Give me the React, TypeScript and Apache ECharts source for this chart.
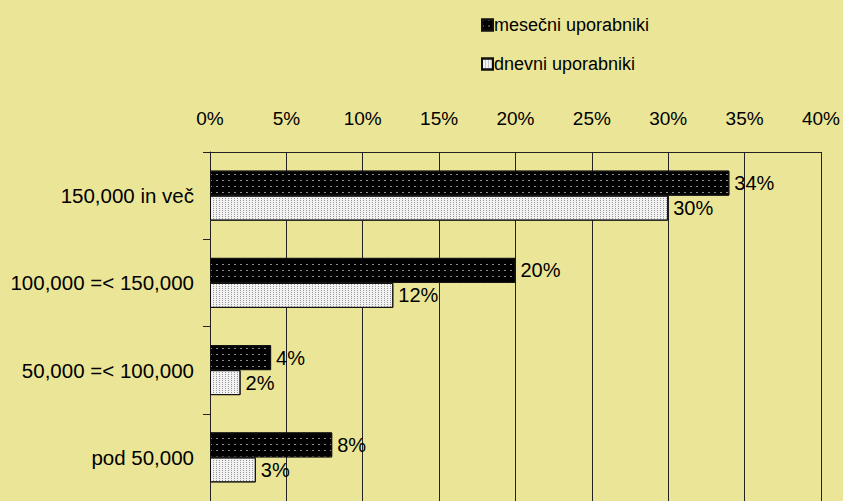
import React, { useEffect, useRef } from "react";
import * as echarts from "echarts";

const categories = ["150,000 in več", "100,000 =< 150,000", "50,000 =< 100,000", "pod 50,000"];
const monthlyName = "mesečni uporabniki";
const dailyName = "dnevni uporabniki";
const monthly = [34, 20, 4, 8];
const daily = [30, 12, 2, 3];

export default function App() {
  const ref = useRef<HTMLDivElement>(null);
  useEffect(() => {
    if (!ref.current) return;
    const chart = echarts.init(ref.current, null, { renderer: "svg" });
    const font = "Liberation Sans, Arial, sans-serif";
    chart.setOption({
      animation: false,
      backgroundColor: "#EBE697",
      textStyle: { fontFamily: font },
      legend: {
        orient: "vertical",
        left: 476,
        top: 11,
        itemGap: 21,
        itemWidth: 11,
        itemHeight: 11,
        icon: "rect",
        textStyle: { fontSize: 18, color: "#000", fontFamily: font, padding: [0, 0, 0, -4] },
        data: [monthlyName, dailyName],
      },
      grid: { left: 210, right: 21, top: 152, height: 352, containLabel: false },
      xAxis: {
        type: "value",
        position: "top",
        min: 0,
        max: 40,
        interval: 5,
        axisLine: { show: true, lineStyle: { color: "#222", width: 1 } },
        axisTick: { show: false },
        axisLabel: { formatter: "{value}%", fontSize: 19, color: "#000", margin: 24, fontFamily: font },
        splitLine: { show: true, lineStyle: { color: "#222", width: 1 } },
      },
      yAxis: {
        type: "category",
        inverse: true,
        data: categories,
        axisLine: { show: true, lineStyle: { color: "#222", width: 1 } },
        axisTick: { show: true, length: 7, lineStyle: { color: "#222" } },
        axisLabel: { fontSize: 20.5, color: "#000", margin: 16, fontFamily: font },
      },
      series: [
        {
          name: monthlyName,
          type: "bar",
          data: monthly,
          barWidth: 25,
          barGap: "0%",
          itemStyle: {
            color: "#000",
            borderColor: "#111",
            borderWidth: 1,
            decal: {
              symbol: "rect",
              symbolSize: 1,
              color: "rgba(255,255,255,0.55)",
              dashArrayX: [2, 4],
              dashArrayY: [1, 5],
              rotation: 0,
            },
          },
          label: { show: true, position: "right", formatter: "{c}%", fontSize: 20, color: "#000", distance: 5, fontFamily: font },
        },
        {
          name: dailyName,
          type: "bar",
          data: daily,
          barWidth: 25,
          itemStyle: {
            color: "#f2f2f2",
            borderColor: "#111",
            borderWidth: 1,
            decal: {
              symbol: "rect",
              symbolSize: 1,
              color: "rgba(90,90,90,0.6)",
              dashArrayX: [1, 2],
              dashArrayY: [1, 1],
              rotation: 0,
            },
          },
          label: { show: true, position: "right", formatter: "{c}%", fontSize: 20, color: "#000", distance: 5, fontFamily: font },
        },
      ],
    });
    return () => chart.dispose();
  }, []);
  return <div ref={ref} style={{ width: 843, height: 501, position: "absolute", left: 0, top: 0 }} />;
}
